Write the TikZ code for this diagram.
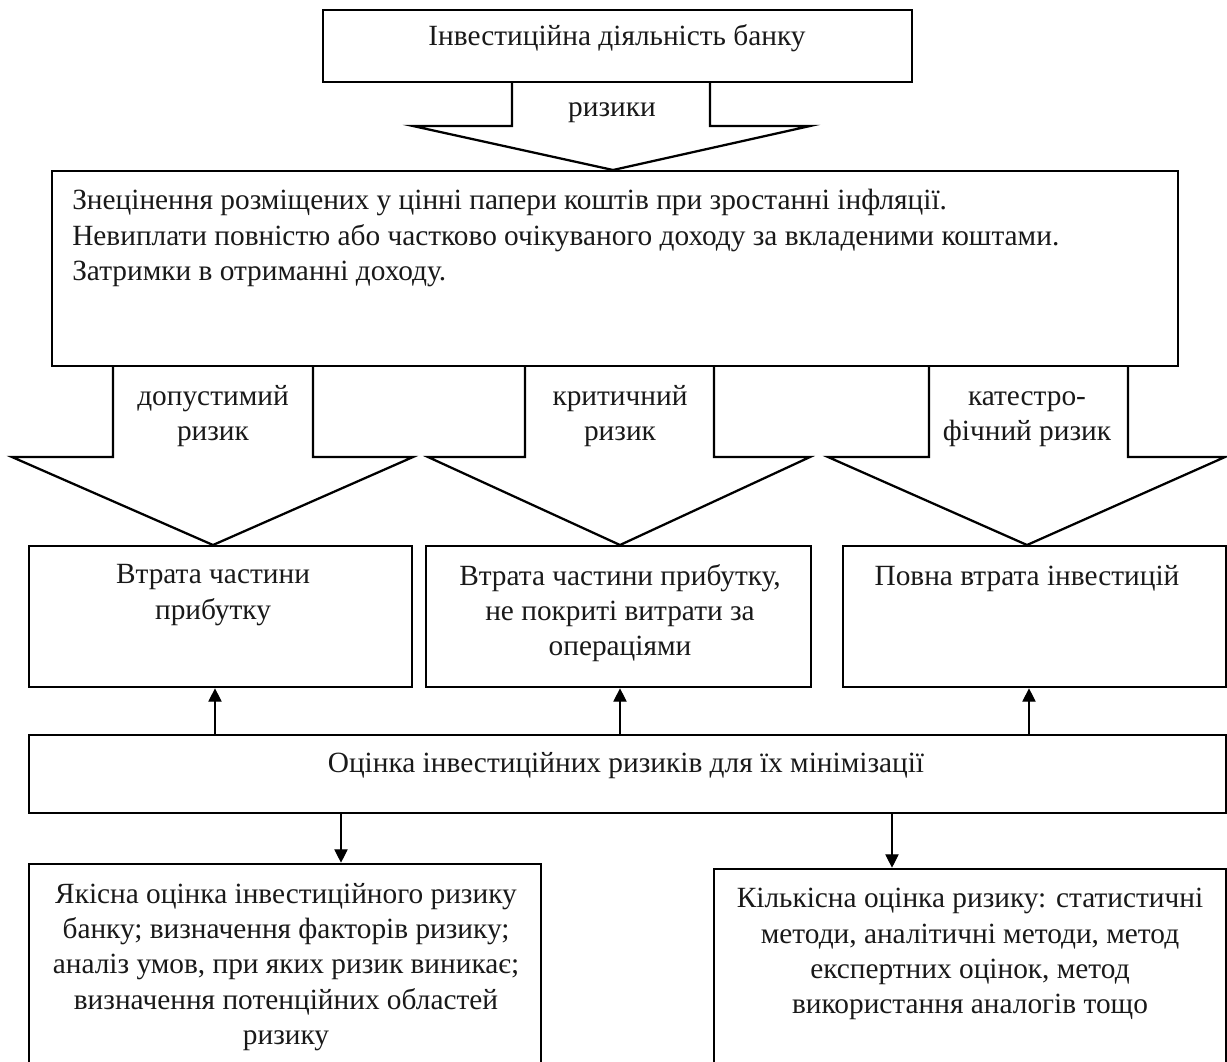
\documentclass[tikz,border=0pt]{standalone}
\usepackage{fontspec}
\setmainfont{Liberation Serif}
\usetikzlibrary{arrows.meta,fit,calc}
\newcommand{\diagfont}{\fontsize{22pt}{26.4pt}\selectfont}
\begin{document}
\begin{tikzpicture}[x=0.75pt,y=-0.75pt,
  box/.style={draw, line width=2pt, inner sep=0pt},
  blk/.style={draw, line width=1.7pt, line join=miter},
  txt/.style={inner sep=0pt, align=center, font=\diagfont, text=black!90},
  conn/.style={draw, line width=0.8pt, -{Triangle[length=10pt,width=10pt]}}]
\clip (0,0) rectangle (1227,1061);
\fill[white] (0,0) rectangle (1227,1061);
% top box
\node[box, fit={(323,10) (912,82)}] (top) {};
\node[txt] (ttop) at (617,38) {Інвестиційна діяльність банку};
% top block arrow
\draw[blk] (512,82) -- (512,126) -- (413,126) -- (613,170) -- (810,126) -- (710,126) -- (710,82);
\node[txt] (lrisk) at (612,113) {ризики};
% risks box
\node[box, fit={(52,171) (1178,366)}] (risks) {};
\node[txt, anchor=west, align=left] (trisks) at (72,238) {Знецінення розміщених у цінні папери коштів при зростанні інфляції.\\
Невиплати повністю або частково очікуваного доходу за вкладеними коштами.\\
Затримки в отриманні доходу.};
% three block arrows
\draw[blk] (113,366) -- (113,457) -- (12,457) -- (213,545) -- (413,457) -- (313,457) -- (313,366);
\draw[blk] (525,366) -- (525,457) -- (428,457) -- (620,545) -- (810,457) -- (714,457) -- (714,366);
\draw[blk] (929,366) -- (929,457) -- (828,457) -- (1027,545) -- (1225,457) -- (1128,457) -- (1128,366);
\node[txt] (l1) at (213,416) {допустимий\\ризик};
\node[txt] (l2) at (620,416) {критичний\\ризик};
\node[txt] (l3) at (1027,419) {катестро-\\фічний ризик};
% consequence boxes
\node[box, fit={(29,546) (412,687)}] (b1) {};
\node[box, fit={(426,546) (811,687)}] (b2) {};
\node[box, fit={(843,546) (1226,687)}] (b3) {};
\node[txt] (t1) at (213,595) {Втрата частини\\прибутку};
\node[txt] (t2) at (620,613) {Втрата частини прибутку,\\не покриті витрати за\\операціями};
\node[txt] (t3) at (1027,579) {Повна втрата інвестицій};
% evaluation box
\node[box, fit={(29,735) (1226,813)}] (eval) {};
\node[txt] (teval) at (626,766) {Оцінка інвестиційних ризиків для їх мінімізації};
% bottom boxes
\node[box, fit={(29,864) (541,1085)}] (q1) {};
\node[box, fit={(714,869) (1226,1085)}] (q2) {};
\node[txt] (tq1) at (286,967) {Якісна оцінка інвестиційного ризику\\банку; визначення факторів ризику;\\аналіз умов, при яких ризик виникає;\\визначення потенційних областей\\ризику};
\node[txt] (tq2) at (970,954) {Кількісна оцінка ризику: статистичні\\методи, аналітичні методи, метод\\експертних оцінок, метод\\використання аналогів тощо};
% thin arrows
\coordinate (x1) at (215,0);
\coordinate (x2) at (620,0);
\coordinate (x3) at (1029,0);
\coordinate (x4) at (341,0);
\coordinate (x5) at (892,0);
\draw[conn] (x1 |- eval.north) -- (x1 |- b1.south);
\draw[conn] (x2 |- eval.north) -- (x2 |- b2.south);
\draw[conn] (x3 |- eval.north) -- (x3 |- b3.south);
\draw[conn] (x4 |- eval.south) -- (x4 |- q1.north);
\draw[conn] (x5 |- eval.south) -- (x5 |- q2.north);
\end{tikzpicture}
\end{document}
